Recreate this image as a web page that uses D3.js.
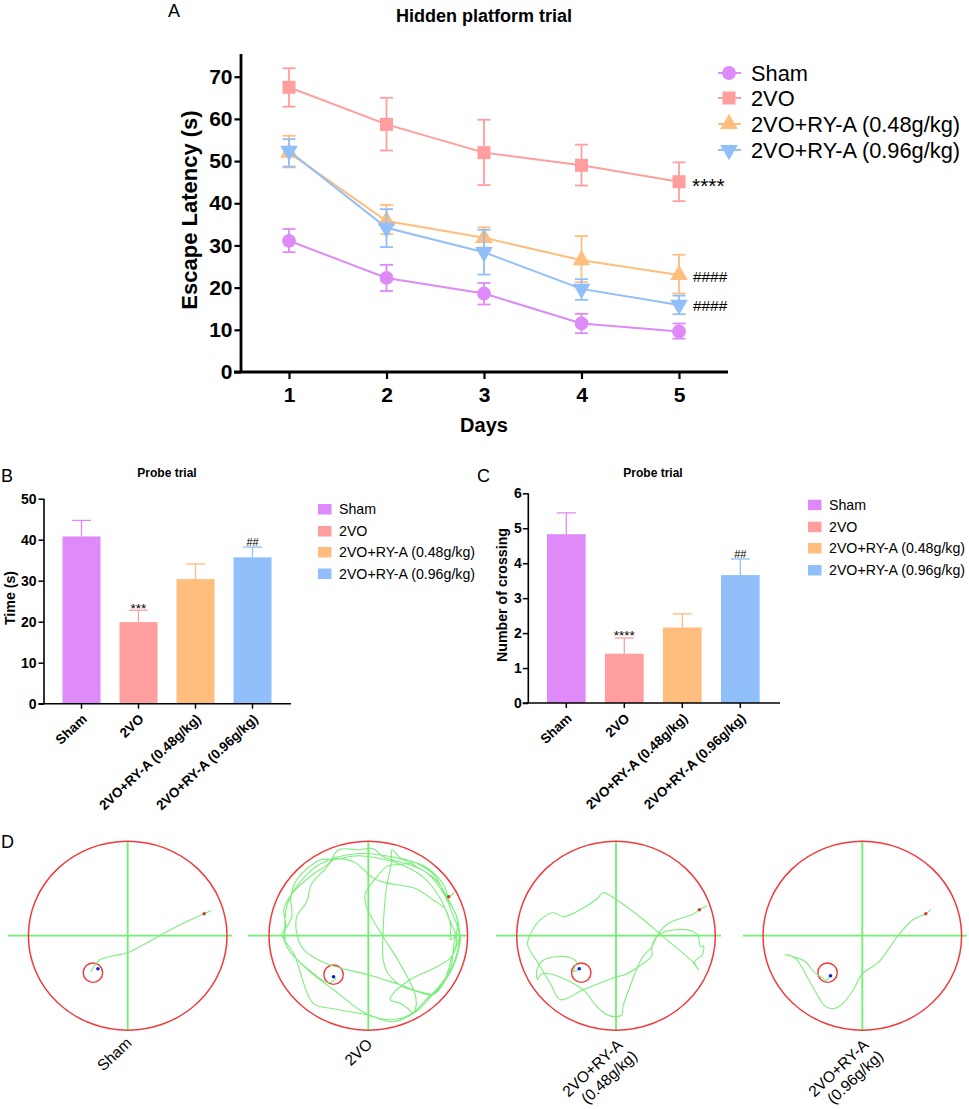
<!DOCTYPE html>
<html>
<head>
<meta charset="utf-8">
<script src="https://cdnjs.cloudflare.com/ajax/libs/d3/7.8.5/d3.min.js"></script>
<style>
    html, body { margin: 0; padding: 0; background: #fff; }
    svg { display: block; }
    text { font-family: "Liberation Sans", Arial, sans-serif; fill: #000; }
</style>
</head>
<body>
<svg id="chart" width="969" height="1109"></svg>
<script>
const groups = ["Sham", "2VO", "2VO+RY-A (0.48g/kg)", "2VO+RY-A (0.96g/kg)"];
const groupColours = ["#DE8AF8", "#FF9E9E", "#FFBD7E", "#90BFFA"];

// Panel A, escape latency by day
const days = [1, 2, 3, 4, 5];
const shamLatency = [31.1, 22.3, 18.6, 11.5, 9.6];
const shamUpper = [33.9, 25.4, 21.1, 13.8, 11.5];
const shamLower = [28.4, 19.2, 16.0, 9.2, 7.9];
const vehLatency = [67.5, 58.7, 52.0, 49.0, 45.1];
const vehUpper = [72.0, 65.0, 59.8, 53.9, 49.7];
const vehLower = [62.9, 52.5, 44.3, 44.2, 40.5];
const lowLatency = [52.0, 35.8, 31.8, 26.5, 23.0];
const lowUpper = [56.0, 39.6, 34.3, 32.2, 27.8];
const lowLower = [48.5, 32.7, 29.5, 21.3, 18.6];
const highLatency = [52.4, 34.2, 28.4, 19.7, 15.9];
const highUpper = [55.2, 38.6, 33.7, 22.0, 18.1];
const highLower = [48.7, 29.6, 23.1, 17.1, 13.7];
const latencyTicks = [0, 10, 20, 30, 40, 50, 60, 70];

// Panels B and C, probe trial
const probeTime = [40.8, 19.9, 30.4, 35.7];
const probeTimeUpper = [44.7, 22.8, 34.1, 38.2];
const probeTimeMarks = ["", "***", "", "##"];
const timeTicks = [0, 10, 20, 30, 40, 50];
const crossings = [4.83, 1.41, 2.16, 3.66];
const crossingsUpper = [5.44, 1.86, 2.55, 4.12];
const crossingsMarks = ["", "****", "", "##"];
const crossingTicks = [0, 1, 2, 3, 4, 5, 6];

// Panel D, swim paths in pool units, origin at the pool centre, y up
const shamTrack = [[84,25],[77,22],[59,14],[32,0],[16,-9],[0,-17],[-14,-20],[-28,-24],[-32,-28],[-37,-36]];
const vehTrack = [[87,44],[81,39],[77,49],[62,66],[47,73],[32,71],[20,70],[7,57],[-3,42],[-2,29],[15,-1],[32,-28],[47,-58],[48,-71],[45,-77],[40,-73],[33,-68],[22,-64],[25,-58],[42,-44],[65,-33],[82,-23],[90,-8],[92,2],[88,22],[80,36],[65,62],[45,74],[32,78],[24,86],[23,72],[18,46],[15,6],[15,-24],[20,-38],[35,-51],[52,-56],[65,-58],[80,-41],[90,-18],[92,2],[83,-4],[83,9],[78,26],[65,36],[48,47],[8,56],[-15,74],[-35,76],[-43,67],[-57,52],[-62,34],[-72,19],[-72,2],[-65,-14],[-42,-28],[0,-39],[32,-49],[65,-59],[78,-44],[86,-28],[92,-1],[84,24],[76,42],[60,62],[44,70],[15,79],[5,87],[-10,86],[-30,86],[-40,72],[-55,62],[-75,44],[-85,27],[-83,9],[-87,1],[-75,-18],[-55,-68],[-35,-73],[-2,-79],[25,-86],[48,-76],[62,-62],[76,-46],[84,-22],[89,-4],[81,18],[72,38],[56,58],[40,68],[25,74],[-10,80],[-35,76],[-48,76],[-72,56],[-78,39],[-77,19],[-85,2],[-82,-11],[-60,-35],[-35,-54],[-2,-78],[25,-84],[45,-77],[58,-64],[72,-50],[83,-32],[86,-10],[90,14],[82,34],[68,56],[50,68],[35,76],[-12,82],[-48,72],[-70,52],[-82,30],[-84,6],[-82,-11],[-55,-38],[-40,-47],[-33,-43],[-35,-41]];
const lowTrack = [[92,30],[84,26],[77,21],[64,17],[52,12],[42,1],[36,-11],[36,-20],[21,-32],[9,-39],[1,-41],[-33,-54],[-56,-64],[-66,-48],[-78,-28],[-89,-9],[-86,2],[-76,16],[-63,23],[-53,19],[-36,26],[-19,37],[-13,43],[-1,37],[24,19],[51,-4],[77,-26],[83,-34],[79,-26],[87,-19],[88,-10],[85,-11],[82,1],[71,6],[49,4],[42,0],[36,-11],[27,-21],[21,-33],[14,-51],[7,-71],[6,-79],[-1,-81],[-11,-78],[-21,-69],[-31,-56],[-46,-46],[-68,-38],[-76,-39],[-79,-44],[-80,-36],[-74,-25],[-61,-21],[-46,-22],[-40,-26],[-43,-36],[-37,-33]];
const highTrack = [[69,26],[64,22],[51,16],[36,0],[26,-14],[16,-27],[0,-38],[-9,-54],[-21,-69],[-31,-73],[-39,-69],[-46,-58],[-54,-44],[-66,-24],[-72,-20],[-78,-19],[-66,-22],[-57,-26],[-49,-36],[-42,-41],[-39,-43],[-37,-45],[-32,-40]];

const poolTracks = [shamTrack, vehTrack, lowTrack, highTrack];
const poolCentresX = [127.7, 368.3, 616, 862.3];
const poolCrossStart = [8, 248, 496, 743];
const poolCrossEnd = [232, 468, 721, 967];
const platforms = [[-35,-37], [-35,-39], [-35,-37], [-35,-37]];
const startDots = [[77,22], [81,39], [84,26], [64,22]];
const endDots = [[-30,-33], [-35,-41], [-37,-33], [-32,-40]];
const poolLabels = [["Sham"], ["2VO"], ["2VO+RY-A", "(0.48g/kg)"], ["2VO+RY-A", "(0.96g/kg)"]];
const poolLabelX = [118, 362, 596, 842];
const poolLabelY = [1058, 1056, 1072, 1072];

const svg = d3.select("#chart");

const panelLetter = (label, x, y) => {
    svg.append("text").attr("x", x).attr("y", y)
        .attr("font-size", 18).text(label);
};

const styleAxis = (g, domainWidth, tickWidth) => {
    g.selectAll("path.domain").attr("stroke", "#000").attr("stroke-width", domainWidth);
    g.selectAll(".tick line").attr("stroke", "#000").attr("stroke-width", tickWidth);
};

const renderLatency = () => {
    const x = d3.scalePoint().domain(days).range([289, 679]);
    const y = d3.scaleLinear().domain([0, 70]).range([372, 76.7]);
    const yTop = 54;

    const series = [
        {mean: shamLatency, upper: shamUpper, lower: shamLower, symbol: d3.symbolCircle, size: 150, flip: 0},
        {mean: vehLatency, upper: vehUpper, lower: vehLower, symbol: d3.symbolSquare, size: 170, flip: 0},
        {mean: lowLatency, upper: lowUpper, lower: lowLower, symbol: d3.symbolTriangle, size: 135, flip: 0},
        {mean: highLatency, upper: highUpper, lower: highLower, symbol: d3.symbolTriangle, size: 135, flip: 180}
    ];

    const line = d3.line().x((d, i) => x(days[i])).y(d => y(d));
    const capHalf = 6.5;

    series.forEach((s, k) => {
        const colour = groupColours[k];
        const g = svg.append("g");
        g.append("path").datum(s.mean).attr("d", line)
            .attr("fill", "none").attr("stroke", colour).attr("stroke-width", 2);
        days.forEach((day, i) => {
            const px = x(day);
            g.append("line").attr("x1", px).attr("x2", px)
                .attr("y1", y(s.upper[i])).attr("y2", y(s.lower[i]))
                .attr("stroke", colour).attr("stroke-width", 1.8);
            [s.upper[i], s.lower[i]].forEach(v => {
                g.append("line").attr("x1", px - capHalf).attr("x2", px + capHalf)
                    .attr("y1", y(v)).attr("y2", y(v))
                    .attr("stroke", colour).attr("stroke-width", 1.8);
            });
            g.append("path").attr("d", d3.symbol().type(s.symbol).size(s.size)())
                .attr("transform", `translate(${px},${y(s.mean[i])}) rotate(${s.flip})`)
                .attr("fill", colour);
        });

        // legend entry
        const ly = [73, 98, 124, 150][k];
        svg.append("line").attr("x1", 718).attr("x2", 741).attr("y1", ly).attr("y2", ly)
            .attr("stroke", colour).attr("stroke-width", 2);
        svg.append("path").attr("d", d3.symbol().type(s.symbol).size(s.size)())
            .attr("transform", `translate(729,${ly}) rotate(${s.flip})`)
            .attr("fill", colour);
        svg.append("text").attr("x", 751).attr("y", ly + 7.5)
            .attr("font-size", 21.8).text(groups[k]);
    });

    const xAxis = svg.append("g").attr("transform", "translate(0,372)")
        .call(d3.axisBottom(x).tickSizeOuter(0).tickSize(7).tickPadding(8));
    xAxis.select("path.domain").attr("d", "M234,0H728");
    styleAxis(xAxis, 2.8, 2.2);
    xAxis.selectAll("text").attr("font-size", 21).attr("font-weight", "bold");

    const yAxis = svg.append("g").attr("transform", "translate(241,0)")
        .call(d3.axisLeft(y).tickValues(latencyTicks).tickSize(6.5).tickPadding(2));
    yAxis.select("path.domain").attr("d", `M0,${yTop}V372`);
    styleAxis(yAxis, 2.8, 2.2);
    yAxis.selectAll("text").attr("font-size", 21).attr("font-weight", "bold");

    svg.append("text").attr("transform", "translate(197,210) rotate(-90)")
        .attr("text-anchor", "middle").attr("font-size", 22).attr("font-weight", "bold")
        .text("Escape Latency (s)");
    svg.append("text").attr("x", 484).attr("y", 432)
        .attr("text-anchor", "middle").attr("font-size", 20).attr("font-weight", "bold")
        .text("Days");
    svg.append("text").attr("x", 484).attr("y", 22)
        .attr("text-anchor", "middle").attr("font-size", 18).attr("font-weight", "bold")
        .text("Hidden platform trial");

    svg.append("text").attr("x", 692).attr("y", 192.5).attr("font-size", 21).text("****");
    svg.append("text").attr("x", 693).attr("y", 282).attr("font-size", 15.4).text("####");
    svg.append("text").attr("x", 693).attr("y", 310.5).attr("font-size", 15.4).text("####");
};

const renderProbe = (opts) => {
    const {values, uppers, marks, ticks, left, right, base, top, bandStart, bandEnd, barWidth,
        yMax, yLabel, labelX, labelY, tickPadding, title, titleX, legendX, legendY} = opts;
    const x = d3.scaleBand().domain(groups).range([bandStart, bandEnd]);
    const y = d3.scaleLinear().domain([0, yMax]).range([base, top]);
    const cx = d => x(d) + x.bandwidth() / 2;

    groups.forEach((name, i) => {
        const colour = groupColours[i];
        svg.append("line").attr("x1", cx(name)).attr("x2", cx(name))
            .attr("y1", y(values[i])).attr("y2", y(uppers[i]))
            .attr("stroke", colour).attr("stroke-width", 1.3);
        svg.append("line").attr("x1", cx(name) - 9.5).attr("x2", cx(name) + 9.5)
            .attr("y1", y(uppers[i])).attr("y2", y(uppers[i]))
            .attr("stroke", colour).attr("stroke-width", 1.3);
        svg.append("rect").attr("x", cx(name) - barWidth / 2).attr("width", barWidth)
            .attr("y", y(values[i])).attr("height", base - y(values[i]))
            .attr("fill", colour);
        if (marks[i]) {
            const stars = marks[i].startsWith("*");
            svg.append("text").attr("x", cx(name)).attr("y", y(uppers[i]) + (stars ? 2.5 : -1))
                .attr("text-anchor", "middle").attr("font-size", stars ? 13.5 : 11).attr("fill", "#333")
                .text(marks[i]);
        }
        const ly = legendY[i];
        svg.append("rect").attr("x", legendX).attr("y", ly - 5).attr("width", 13.5).attr("height", 10.5)
            .attr("fill", colour);
        svg.append("text").attr("x", legendX + 21).attr("y", ly + 5)
            .attr("font-size", 14.2).attr("fill", "#222").text(name);
    });

    const xAxis = svg.append("g").attr("transform", `translate(0,${base})`)
        .call(d3.axisBottom(x).tickSize(5));
    xAxis.select("path.domain").attr("d", `M${left - 5.5},0H${right}`);
    styleAxis(xAxis, 1.6, 1.5);
    xAxis.selectAll("text")
        .attr("font-size", 13.5).attr("font-weight", "bold").attr("fill", "#111")
        .attr("text-anchor", "end")
        .attr("y", 0)
        .attr("dy", "0.35em")
        .attr("transform", "translate(3,13) rotate(-43)");

    const yAxis = svg.append("g").attr("transform", `translate(${left},0)`)
        .call(d3.axisLeft(y).tickValues(ticks).tickSize(5.5).tickPadding(tickPadding).tickFormat(d3.format("d")));
    styleAxis(yAxis, 1.6, 1.5);
    yAxis.select("path.domain").attr("d", `M0,${top}V${base}`);
    yAxis.selectAll("text").attr("font-size", 14).attr("font-weight", "bold");

    svg.append("text").attr("transform", `translate(${labelX},${labelY}) rotate(-90)`)
        .attr("text-anchor", "middle").attr("font-size", 14.2).attr("font-weight", "bold")
        .text(yLabel);
    svg.append("text").attr("x", titleX).attr("y", 476.5)
        .attr("text-anchor", "middle").attr("font-size", 12).attr("font-weight", "bold")
        .text(title);
};

const renderPools = () => {
    const cy = 935.7, rx = 99.3, ry = 94.5;
    const trackLine = d3.line().curve(d3.curveCatmullRom.alpha(0.5));

    poolTracks.forEach((track, i) => {
        const cx = poolCentresX[i];
        const x = d3.scaleLinear().domain([-100, 100]).range([cx - rx, cx + rx]);
        const y = d3.scaleLinear().domain([-100, 100]).range([cy + 100, cy - 100]);
        const g = svg.append("g");

        g.append("line").attr("x1", poolCrossStart[i]).attr("x2", poolCrossEnd[i])
            .attr("y1", cy).attr("y2", cy).attr("stroke", "#6FF06F").attr("stroke-width", 1.8);
        g.append("line").attr("x1", cx).attr("x2", cx)
            .attr("y1", cy - ry).attr("y2", cy + ry).attr("stroke", "#6FF06F").attr("stroke-width", 1.8);
        g.append("ellipse").attr("cx", cx).attr("cy", cy).attr("rx", rx).attr("ry", ry)
            .attr("fill", "none").attr("stroke", "#F2383C").attr("stroke-width", 1.5);
        g.append("circle").attr("cx", x(platforms[i][0])).attr("cy", y(platforms[i][1])).attr("r", 9.7)
            .attr("fill", "none").attr("stroke", "#F2383C").attr("stroke-width", 1.4);
        g.append("path").attr("d", trackLine.x(d => x(d[0])).y(d => y(d[1]))(track))
            .attr("fill", "none").attr("stroke", "#7DEE7D").attr("stroke-width", 1.1);
        g.append("circle").attr("cx", x(startDots[i][0])).attr("cy", y(startDots[i][1])).attr("r", 1.7)
            .attr("fill", "#D4382C");
        g.append("circle").attr("cx", x(endDots[i][0])).attr("cy", y(endDots[i][1])).attr("r", 1.8)
            .attr("fill", "#1020E0");

        const label = svg.append("g")
            .attr("transform", `translate(${poolLabelX[i]},${poolLabelY[i]}) rotate(-43)`);
        poolLabels[i].forEach((text, k) => {
            label.append("text").attr("x", k * 6).attr("y", k * 18)
                .attr("text-anchor", "middle").attr("font-size", 15.5).attr("fill", "#111")
                .text(text);
        });
    });
};

panelLetter("A", 168, 16.5);
panelLetter("B", 1, 481.5);
panelLetter("C", 477, 481.5);
panelLetter("D", 1, 848);

renderLatency();
renderProbe({
    values: probeTime, uppers: probeTimeUpper, marks: probeTimeMarks, ticks: timeTicks,
    left: 44, right: 291, base: 703.7, top: 498.7, bandStart: 53, bandEnd: 281, barWidth: 38,
    yMax: 50, yLabel: "Time (s)", labelX: 15, labelY: 598, tickPadding: 2,
    title: "Probe trial", titleX: 167,
    legendX: 318, legendY: [509, 531, 552, 573.5]
});
renderProbe({
    values: crossings, uppers: crossingsUpper, marks: crossingsMarks, ticks: crossingTicks,
    left: 528.3, right: 780, base: 703, top: 493.3, bandStart: 537.3, bandEnd: 769.3, barWidth: 38.7,
    yMax: 6, yLabel: "Number of crossing", labelX: 506.7, labelY: 595, tickPadding: 1,
    title: "Probe trial", titleX: 653,
    legendX: 808, legendY: [504.7, 526.7, 548, 570]
});
renderPools();
</script>
</body>
</html>
